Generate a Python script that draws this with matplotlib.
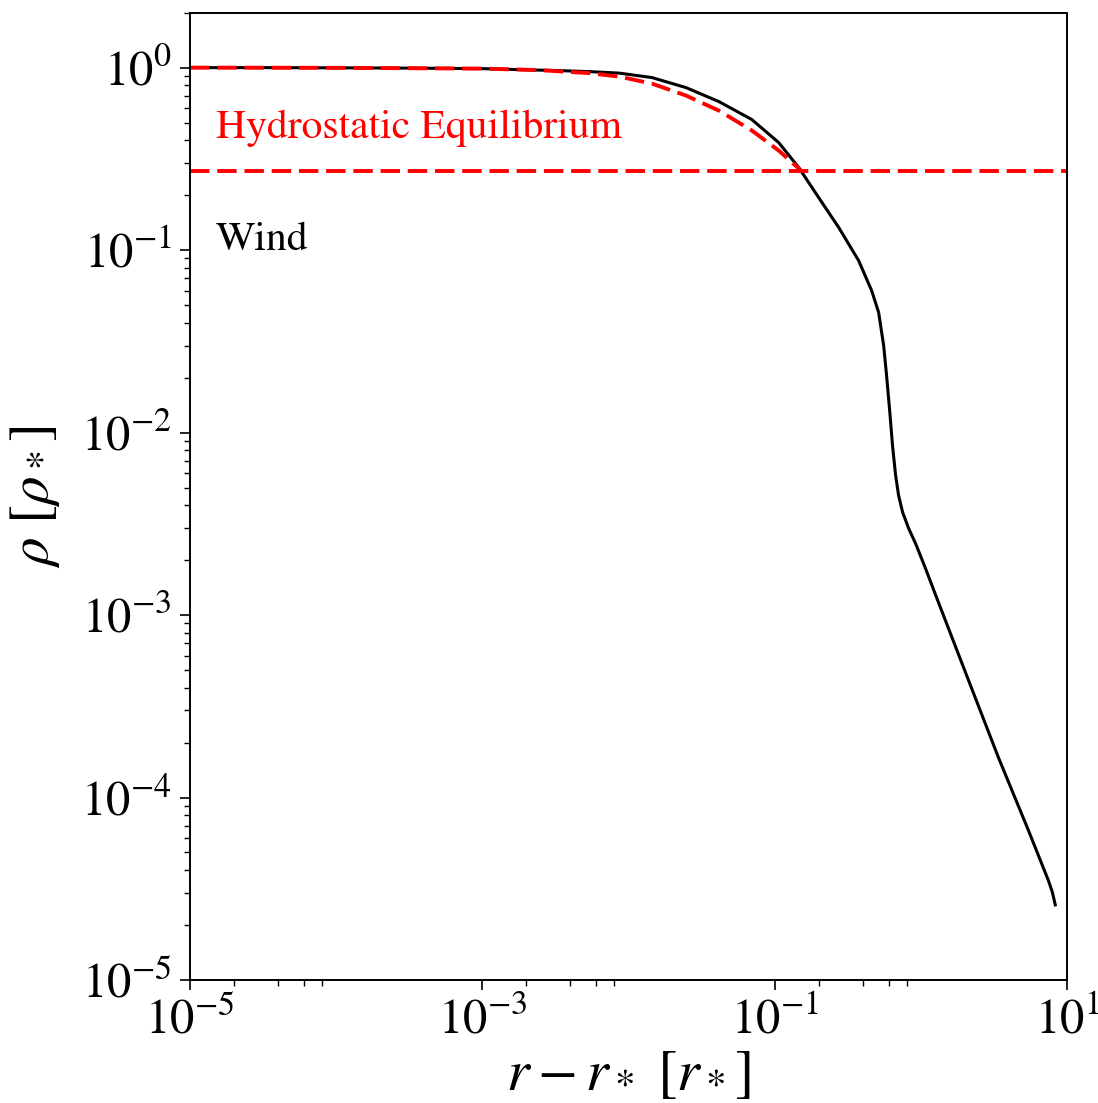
import numpy as np
import matplotlib.pyplot as plt
from matplotlib.ticker import FixedLocator, NullFormatter

plt.rcParams['font.family'] = ['STIXGeneral', 'DejaVu Serif']
plt.rcParams['mathtext.fontset'] = 'stix'

# wind density profile, r - r_* in units of r_*, rho in units of rho_*
r_wind = np.array([1e-5, 3.15e-5, 9.93e-5, 3.18e-4, 1.0e-3, 1.79e-3, 3.36e-3, 5.37e-3,
                   8.61e-3, 1.445e-2, 2.47e-2, 4.15e-2, 6.97e-2, 0.1064, 0.1459, 0.1995,
                   0.2735, 0.374, 0.459, 0.513, 0.555, 0.581, 0.610, 0.638, 0.670,
                   0.702, 0.748, 0.822, 0.917, 1.073, 1.276, 2.11, 3.38, 5.42, 7.41,
                   7.91, 8.28])
rho_wind = np.array([1.0, 1.0, 0.9975, 0.9938, 0.9874, 0.975, 0.963, 0.951,
                     0.933, 0.882, 0.777, 0.651, 0.519, 0.388, 0.283, 0.194,
                     0.133, 0.0877, 0.0601, 0.0455, 0.0300, 0.0206, 0.01323, 0.00851, 0.00583,
                     0.00453, 0.00366, 0.00299, 0.00247, 0.00180, 0.00125, 4.40e-4, 1.66e-4,
                     6.62e-5, 3.53e-5, 3.03e-5, 2.58e-5])

# hydrostatic solution up to the matching point
r_hydro = np.array([1e-5, 9.93e-5, 1e-3, 2.45e-3, 5.37e-3, 8.61e-3, 1.445e-2, 2.47e-2,
                    4.15e-2, 6.97e-2, 0.1064, 0.1459, 0.1527])
rho_hydro = np.array([1.0, 0.9975, 0.9874, 0.969, 0.933, 0.893, 0.817, 0.703,
                      0.581, 0.452, 0.351, 0.280, 0.27])

rho_match = 0.27

fig = plt.figure(figsize=(10.98, 11.03), dpi=100)
ax = fig.add_axes([0.173, 0.1115, 0.799, 0.877])

ax.plot(r_wind, rho_wind, color='black', lw=2.2)
ax.plot(r_hydro, rho_hydro, color='red', lw=2.8, ls=(0, (5, 2)))
ax.axhline(rho_match, color='red', lw=2.8, ls=(0, (5, 2)))

ax.set_xscale('log')
ax.set_yscale('log')
ax.set_xlim(1e-5, 1e1)
ax.set_ylim(1e-5, 2)

ax.xaxis.set_major_locator(FixedLocator([1e-5, 1e-3, 1e-1, 1e1]))
xminor = [s * 10.0**e for e in (-5, -3, -1) for s in (2, 4, 6, 8)]
ax.xaxis.set_minor_locator(FixedLocator(xminor))
ax.xaxis.set_minor_formatter(NullFormatter())

ax.tick_params(which='major', labelsize=35, length=7, width=1.2, pad=6)
ax.tick_params(which='minor', length=4, width=1.0)
for s in ax.spines.values():
    s.set_linewidth(1.4)

ax.text(1.5e-5, 0.41, 'Hydrostatic Equilibrium', color='red', fontsize=30)
ax.text(1.5e-5, 0.1, 'Wind', color='black', fontsize=30)

ax.set_xlabel(r'$r - r_*\ [r_*]$', fontsize=42, labelpad=4)
ax.set_ylabel(r'$\rho\ [\rho_*]$', fontsize=41, labelpad=14)

fig.savefig('out.png', dpi=100)
